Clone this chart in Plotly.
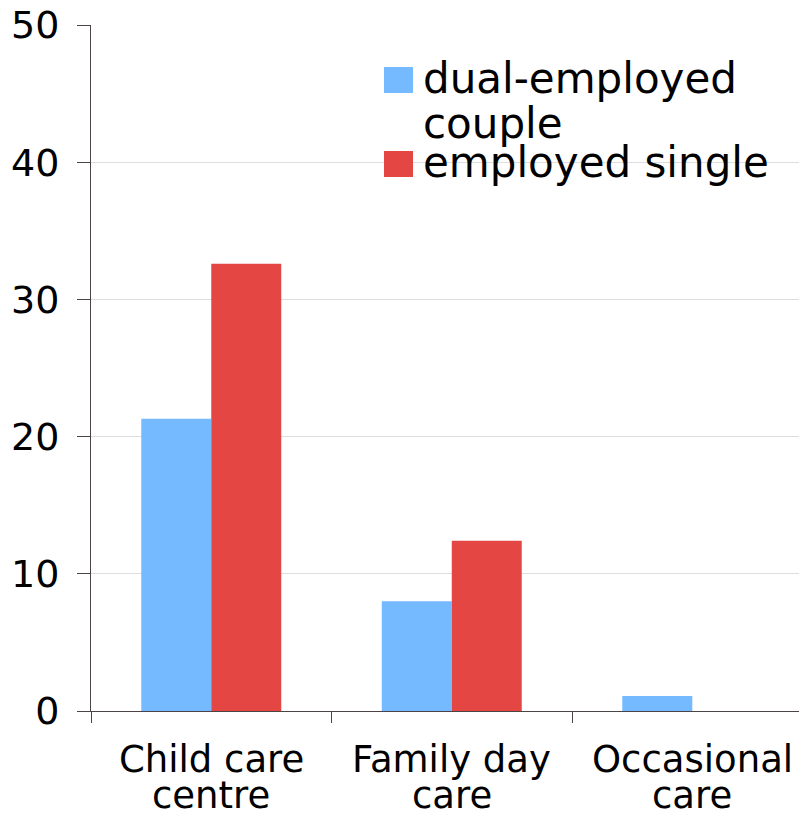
import plotly.graph_objects as go

categories = ["Child care<br>centre", "Family day<br>care", "Occasional<br>care"]
dual_employed_couple = [21.3, 8.0, 1.1]
employed_single = [32.6, 12.4, 0]
legend_lines = [["dual-employed", "couple"], ["employed single"]]
y_ticks = [0, 10, 20, 30, 40, 50]

BLUE = "#75b9ff"
RED = "#e34643"
AXIS = "#4a4444"
FONT = "DejaVu Sans"

# page has an 8px body margin; figure sized to fill the window
W, H = 799, 810
L, R, T, B = 83, 0, 17, 107
PW, PH = W - L - R, H - T - B
OFF = 8

def px(x):  # page x -> paper
    return (x - OFF - L) / PW

def py(y):  # page y -> paper
    return (H - B - (y - OFF)) / PH

fig = go.Figure()
fig.add_trace(go.Bar(x=categories, y=dual_employed_couple, name="dual-employed couple",
                     marker=dict(color=BLUE, line=dict(width=0)), showlegend=False))
fig.add_trace(go.Bar(x=categories, y=employed_single, name="employed single",
                     marker=dict(color=RED, line=dict(width=0)), showlegend=False))

shapes = [
    dict(type="rect", xref="paper", yref="paper", x0=px(330), x1=1.0, y0=py(190), y1=py(50),
         fillcolor="white", line=dict(width=0), layer="below"),
    dict(type="rect", xref="paper", yref="paper", x0=px(384), x1=px(413), y0=py(93), y1=py(67),
         fillcolor=BLUE, line=dict(width=0)),
    dict(type="rect", xref="paper", yref="paper", x0=px(384), x1=px(413), y0=py(177), y1=py(151),
         fillcolor=RED, line=dict(width=0)),
]

LS = 42
CS = 37
annotations = []
legend_baselines = [[93, 138], [177]]
for lines, bases in zip(legend_lines, legend_baselines):
    for txt, base in zip(lines, bases):
        annotations.append(dict(text=txt, x=px(421), y=py(base - 0.346 * LS), xref="paper", yref="paper",
                                xanchor="left", yanchor="middle", showarrow=False,
                                font=dict(size=LS, family=FONT, color="black")))

cat_baselines = [772, 808]
for cat in categories:
    for txt, base in zip(cat.split("<br>"), cat_baselines):
        annotations.append(dict(text=txt, x=cat, y=py(base - 0.346 * CS), xref="x", yref="paper",
                                xanchor="center", yanchor="middle", showarrow=False,
                                font=dict(size=CS, family=FONT, color="black")))

fig.update_layout(
    width=W, height=H,
    margin=dict(l=L, r=R, t=T, b=B, pad=0, autoexpand=False),
    paper_bgcolor="white", plot_bgcolor="white",
    barmode="group", bargap=0.418, bargroupgap=0,
    font=dict(family=FONT, size=34, color="black"),
    shapes=shapes, annotations=annotations,
    xaxis=dict(type="category", range=[-0.5, 2.477], tickson="boundaries", ticks="outside",
               ticklen=11, tickcolor=AXIS, tickwidth=1, showline=True, linecolor=AXIS, linewidth=1,
               showgrid=False, showticklabels=False, automargin=False),
    yaxis=dict(range=[0, 50], tickvals=y_ticks, ticks="outside", ticklen=13, tickcolor=AXIS,
               tickwidth=1, showline=True, linecolor=AXIS, linewidth=1, gridcolor="#dddddd",
               gridwidth=1, zeroline=False, ticklabelstandoff=10, ticklabeloverflow="allow",
               automargin=False, tickfont=dict(size=38, family=FONT, color="black")),
)

fig.write_html("out.html")
